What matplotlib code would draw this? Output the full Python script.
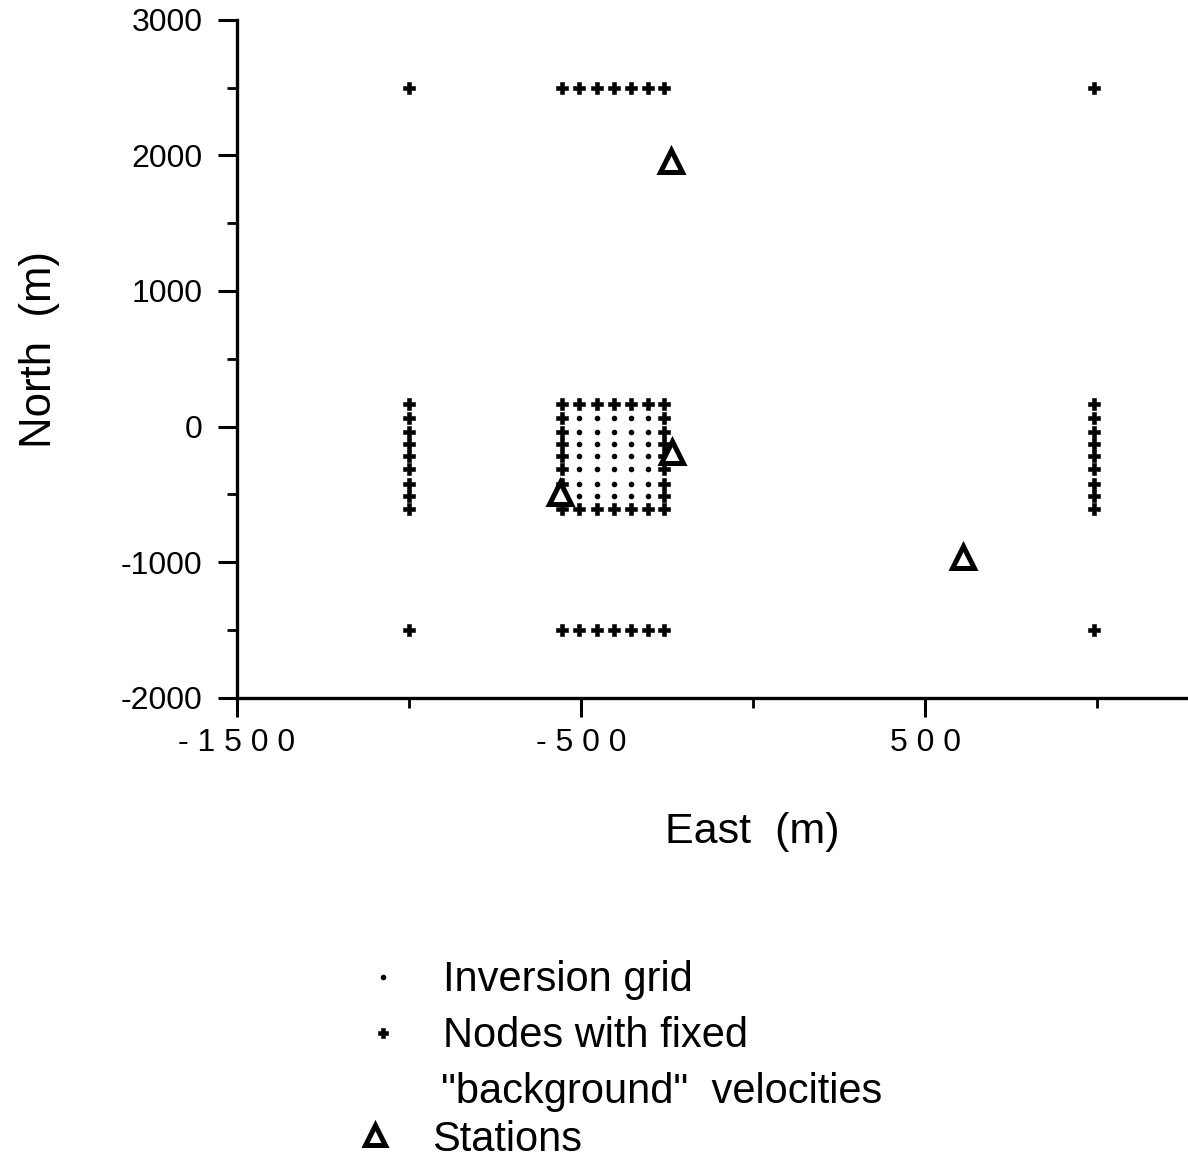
import numpy as np
import matplotlib.pyplot as plt
from matplotlib.ticker import MultipleLocator

plt.rcParams['font.family'] = ['Liberation Sans', 'DejaVu Sans']
plt.rcParams['axes.unicode_minus'] = False

# central model block (m)
grid_x = [-555, -505, -455, -405, -355, -305, -260]
grid_y = [170, 60, -40, -125, -220, -315, -420, -515, -610]
# outer columns / rows of fixed nodes
side_x = [-1000, 990]
top_y = 2500
bottom_y = -1500
# stations (m)
sta_x = [-240, -235, -560, 610]
sta_y = [1960, -190, -490, -965]

xtick_pos = [-1500, -500, 500]
xtick_lab = ['- 1 5 0 0', '- 5 0 0', '5 0 0']

# inversion grid = interior of the central block
inv_x, inv_y = np.meshgrid(grid_x[1:-1], grid_y[1:-1])

# fixed nodes = block border + side columns + top/bottom rows
fx, fy = [], []
for x in grid_x:
    fx += [x, x]
    fy += [grid_y[0], grid_y[-1]]
for y in grid_y[1:-1]:
    fx += [grid_x[0], grid_x[-1]]
    fy += [y, y]
for x in side_x:
    fx += [x] * len(grid_y)
    fy += grid_y
for x in [side_x[0]] + grid_x + [side_x[1]]:
    fx += [x, x]
    fy += [top_y, bottom_y]

fig = plt.figure(figsize=(11.88, 11.63), dpi=100)
ax = fig.add_axes([0.1995, 0.4, 0.8005, 0.583])

ax.plot(inv_x.ravel(), inv_y.ravel(), 'o', color='black', ms=3, ls='none')
ax.plot(fx, fy, 'P', color='black', ms=8.5, ls='none', mew=0.4, mec='black')
ax.plot(sta_x, sta_y, '^', mfc='white', mec='black', ms=16, mew=3.6, ls='none', zorder=5)

ax.set_xlim(-1500, 1264)
ax.set_ylim(-2000, 3000)
ax.yaxis.set_major_locator(MultipleLocator(1000))
ax.yaxis.set_minor_locator(MultipleLocator(500))
ax.set_xticks(xtick_pos, xtick_lab, fontsize=23)
ax.set_xticks([-1000, 0, 1000], minor=True)

for s in ['top', 'right']:
    ax.spines[s].set_visible(False)
for s in ['left', 'bottom']:
    ax.spines[s].set_linewidth(2.4)

ax.tick_params(which='major', direction='out', length=14, width=2.2, labelsize=23, pad=11)
ax.tick_params(which='minor', direction='out', length=7, width=2)
ax.tick_params(axis='x', pad=8)

ax.set_xlabel('East  (m)', fontsize=31)
ax.set_ylabel('North  (m)', fontsize=31.5)
ax.xaxis.set_label_coords(0.5415, -0.168)
ax.yaxis.set_label_coords(-0.186, 0.513)

# legend
fig.lines.append(plt.Line2D([0.3225], [1 - 977 / 1163], marker='o', ms=3, color='black',
                            ls='none', transform=fig.transFigure))
fig.lines.append(plt.Line2D([0.3225], [1 - 1033 / 1163], marker='P', ms=7.5, mew=0.4, color='black',
                            ls='none', transform=fig.transFigure))
fig.lines.append(plt.Line2D([0.316], [1 - 1135 / 1163], marker='^', ms=15, mew=3.6, mfc='white',
                            mec='black', ls='none', transform=fig.transFigure))
fig.text(0.373, 1 - 980 / 1163, 'Inversion grid', fontsize=30, va='center')
fig.text(0.373, 1 - 1036 / 1163, 'Nodes with fixed', fontsize=30, va='center')
fig.text(0.371, 1 - 1092 / 1163, '"background"  velocities', fontsize=30, va='center')
fig.text(0.364, 1 - 1140 / 1163, 'Stations', fontsize=30, va='center')

fig.savefig('out.png', dpi=100)
